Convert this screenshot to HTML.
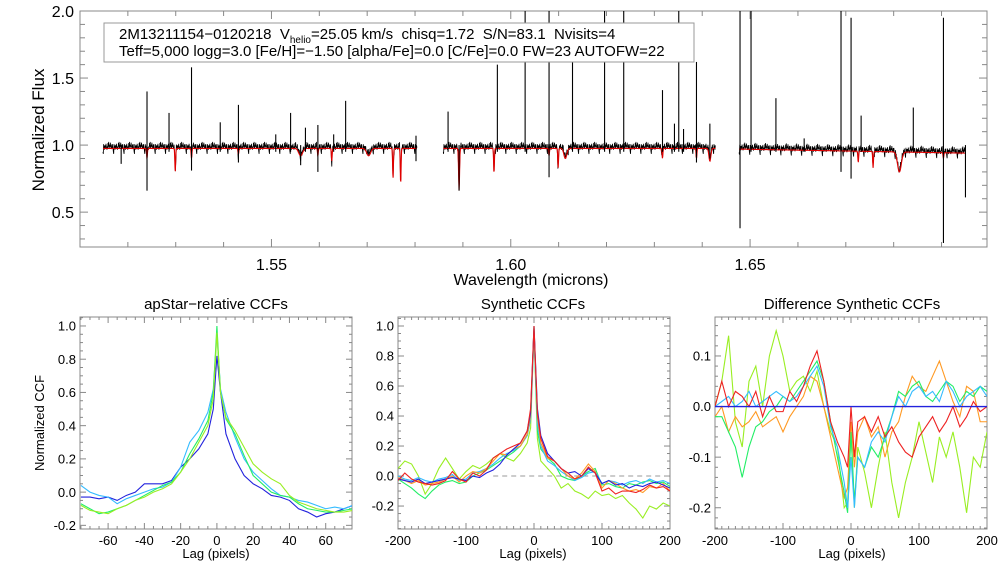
<!DOCTYPE html>
<html><head><meta charset="utf-8"><style>
body{margin:0;background:#fff}
svg{display:block;font-family:"Liberation Sans",sans-serif}
</style></head><body>
<svg id="c" width="1008" height="576" viewBox="0 0 1008 576"></svg>
<script>
// ---------- top spectrum data ----------
const segStart=[1.5148,1.5859,1.6477];
const segEnd=[1.5804,1.6428,1.6950];
const segLevelStart=[0.975,0.975,0.970];
const segLevelEnd=[0.975,0.975,0.940];
const absWl=[1.5240,1.5299,1.5333,1.5431,1.5561,1.5597,1.5626,1.5703,1.5754,1.5770,1.5892,1.5965,1.6080,1.6099,1.6114,1.6317,1.6388,1.6416,1.6726,1.6757,1.6812,1.6904];
const absMin=[0.90,0.80,0.90,0.93,0.92,0.92,0.88,0.92,0.75,0.71,0.66,0.79,0.92,0.83,0.90,0.90,0.90,0.88,0.87,0.83,0.80,0.90];
const absW=[0.00008,0.00008,0.00008,0.00008,0.0004,0.00008,0.00008,0.0004,0.00008,0.00008,0.0001,0.00008,0.00008,0.00008,0.0003,0.00008,0.00008,0.0002,0.00008,0.00008,0.0004,0.00008];
const spkWl=[1.5186,1.5240,1.5286,1.5333,1.5393,1.5431,1.5509,1.5540,1.5561,1.5571,1.5597,1.5630,1.5655,1.5802,1.5869,1.5892,1.5972,1.6030,1.6080,1.6129,1.6196,1.6236,1.6317,1.6342,1.6351,1.6361,1.6388,1.6416,1.6479,1.6502,1.6554,1.6613,1.6690,1.6711,1.6732,1.6841,1.6904,1.6950];
const spkTop=[1.0,1.40,1.24,1.58,1.17,1.30,1.08,1.24,1.0,1.13,1.15,1.08,1.33,1.07,1.25,1.0,1.60,2.1,2.1,1.73,2.1,2.1,1.41,1.16,2.1,1.12,1.62,1.16,2.1,2.1,1.35,1.05,2.1,1.95,1.22,1.28,1.95,1.0];
const spkBot=[0.86,0.66,0.95,0.81,0.95,0.87,0.95,0.95,0.85,0.95,0.80,0.95,0.95,0.88,0.95,0.66,0.95,0.95,0.76,0.95,0.95,0.95,0.95,0.95,0.95,0.95,0.87,0.90,0.38,0.95,0.95,0.95,0.80,0.75,0.95,0.95,0.27,0.61];
const noiseTex=[0.012,-0.008,0.02,-0.015,0.004,-0.022,0.016,0.001,-0.011,0.024,-0.005,0.009,-0.018,0.013,-0.002,0.019,-0.013,0.006,-0.025,0.011,0.003,-0.009,0.021,-0.016,0.008,-0.004,0.017,-0.02,0.014,-0.007,0.005];

// ---------- CCF data ----------
const lagL=[-75,-70,-65,-60,-55,-50,-45,-40,-35,-30,-25,-20,-15,-10,-5,-2,0,2,5,10,15,20,25,30,35,40,45,50,55,60,65,70,75];
const ccfLBlue=[-0.03,-0.03,-0.04,-0.03,-0.05,-0.02,0.0,0.05,0.05,0.05,0.07,0.15,0.2,0.26,0.35,0.5,0.82,0.6,0.35,0.2,0.1,0.05,0.02,-0.02,-0.03,-0.05,-0.1,-0.12,-0.15,-0.13,-0.12,-0.1,-0.08];
const ccfLCyan=[0.04,0.0,-0.02,-0.03,-0.07,-0.04,-0.02,0.0,0.02,0.03,0.06,0.15,0.3,0.37,0.48,0.62,0.95,0.62,0.48,0.33,0.2,0.12,0.07,0.02,-0.02,-0.03,-0.05,-0.06,-0.08,-0.1,-0.09,-0.1,-0.08];
const ccfLGreen=[-0.07,-0.1,-0.13,-0.12,-0.1,-0.08,-0.05,-0.02,0.01,0.04,0.06,0.12,0.23,0.32,0.43,0.6,1.0,0.6,0.44,0.35,0.22,0.1,0.05,0.0,-0.02,-0.03,-0.07,-0.1,-0.11,-0.12,-0.12,-0.11,-0.1];
const ccfLLime=[-0.08,-0.11,-0.12,-0.13,-0.1,-0.08,-0.05,-0.03,0.0,0.02,0.05,0.12,0.2,0.3,0.4,0.56,0.96,0.6,0.45,0.37,0.27,0.17,0.12,0.08,0.05,-0.02,-0.06,-0.08,-0.1,-0.11,-0.12,-0.12,-0.11];

const lagM=[-200,-190,-180,-170,-160,-150,-140,-130,-120,-110,-100,-90,-80,-70,-60,-50,-40,-30,-20,-10,-5,0,5,10,20,30,40,50,60,70,80,90,100,110,120,130,140,150,160,170,180,190,200];
const ccfMBlue=[-0.02,-0.03,-0.04,-0.02,-0.05,-0.04,-0.03,-0.02,-0.01,-0.02,-0.03,0.0,-0.01,0.02,0.04,0.08,0.14,0.18,0.22,0.3,0.42,1.0,0.45,0.27,0.15,0.1,0.05,0.02,0.03,0.0,0.05,0.02,-0.05,-0.03,-0.06,-0.05,-0.08,-0.06,-0.07,-0.05,-0.04,-0.06,-0.08];
const ccfMCyan=[0.0,-0.02,-0.03,-0.01,-0.03,-0.04,-0.02,-0.01,0.01,-0.03,-0.02,0.02,0.03,0.05,0.08,0.12,0.15,0.17,0.2,0.27,0.38,0.95,0.35,0.2,0.1,0.07,0.03,0.0,-0.03,-0.01,0.02,0.03,-0.05,-0.03,-0.04,-0.06,-0.04,-0.03,-0.05,-0.02,-0.04,-0.03,-0.05];
const ccfMGreen=[-0.02,-0.05,-0.08,-0.12,-0.15,-0.1,-0.06,-0.04,-0.03,-0.05,-0.04,0.0,0.02,0.04,0.07,0.1,0.13,0.16,0.2,0.27,0.38,1.0,0.3,0.18,0.12,0.08,0.0,-0.02,-0.03,0.0,0.03,0.05,-0.06,-0.05,-0.07,-0.08,-0.05,-0.06,-0.04,-0.03,-0.05,-0.04,-0.07];
const ccfMLime=[0.05,0.1,0.08,0.0,-0.12,-0.05,0.05,0.12,0.05,-0.02,0.03,0.07,0.05,0.08,0.12,0.15,0.12,0.1,0.15,0.22,0.32,0.95,0.25,0.1,0.05,0.0,-0.08,-0.05,-0.1,-0.12,-0.15,-0.1,-0.13,-0.12,-0.15,-0.13,-0.18,-0.22,-0.28,-0.2,-0.22,-0.18,-0.2];
const ccfMOrange=[-0.01,-0.03,-0.05,-0.03,-0.06,-0.05,-0.04,-0.02,0.0,-0.04,0.0,0.03,0.02,0.05,0.1,0.15,0.14,0.18,0.2,0.28,0.4,0.98,0.4,0.22,0.12,0.1,0.05,0.0,-0.02,0.02,0.08,0.03,-0.08,-0.03,-0.05,-0.08,-0.1,-0.09,-0.11,-0.07,-0.08,-0.05,-0.1];
const ccfMRed=[-0.03,0.02,-0.02,-0.04,-0.05,-0.06,-0.05,-0.03,0.03,-0.02,-0.04,0.02,0.0,0.04,0.12,0.15,0.18,0.2,0.22,0.3,0.45,1.0,0.42,0.25,0.13,0.1,0.05,0.02,-0.02,0.0,0.06,0.02,-0.1,-0.08,-0.12,-0.1,-0.1,-0.11,-0.09,-0.06,-0.08,-0.07,-0.1];

const lagR=lagM;
const difBlue=[0,0,0,0,0,0,0,0,0,0,0,0,0,0,0,0,0,0,0,0,0,0,0,0,0,0,0,0,0,0,0,0,0,0,0,0,0,0,0,0,0,0,0];
const difCyan=[0.0,0.01,0.02,0.0,0.01,0.03,0.0,0.01,0.02,0.03,0.02,0.01,0.02,0.04,0.06,0.08,0.04,-0.04,-0.08,-0.15,-0.2,-0.1,-0.2,-0.1,-0.12,-0.07,-0.05,-0.07,-0.02,0.02,0.0,0.03,0.04,0.02,0.03,0.01,0.05,0.03,0.0,0.02,0.03,0.04,0.02];
const difGreen=[-0.02,-0.02,-0.05,-0.08,-0.14,-0.08,-0.04,-0.03,-0.01,0.0,0.02,0.01,0.03,0.05,0.07,0.09,0.05,-0.03,-0.1,-0.17,-0.21,-0.05,-0.19,-0.1,-0.12,-0.08,-0.1,-0.06,-0.02,0.03,0.02,0.04,0.05,0.02,0.01,0.03,0.05,0.04,0.01,0.03,0.02,0.04,0.03];
const difLime=[0.0,0.05,0.14,-0.03,-0.08,0.05,0.08,0.0,0.1,0.15,0.1,0.03,0.05,0.06,0.03,0.07,0.0,-0.05,-0.08,-0.2,-0.19,-0.05,-0.2,-0.08,-0.13,-0.2,-0.12,-0.05,-0.15,-0.22,-0.15,-0.1,-0.03,-0.09,-0.15,-0.06,-0.1,-0.05,-0.12,-0.21,-0.1,-0.12,-0.05];
const difOrange=[-0.02,0.0,-0.05,-0.02,-0.04,-0.03,-0.01,-0.04,-0.03,-0.02,-0.05,-0.02,0.0,0.02,0.06,0.05,0.0,-0.06,-0.12,-0.18,-0.16,-0.03,-0.12,-0.05,-0.02,-0.06,-0.04,-0.1,-0.05,-0.03,0.02,0.06,0.04,0.03,0.06,0.09,0.05,0.01,-0.02,0.04,0.03,-0.03,-0.03];
const difRed=[0.0,0.05,0.0,0.03,0.02,0.0,0.03,-0.02,0.02,-0.01,-0.01,0.03,0.01,0.04,0.08,0.11,0.05,-0.03,-0.07,-0.1,-0.12,0.0,-0.1,-0.03,-0.02,-0.05,-0.02,-0.06,-0.04,-0.07,-0.09,-0.1,-0.06,-0.04,-0.02,-0.05,-0.03,0.0,-0.04,-0.02,0.01,-0.01,0.0];

const C={blue:'#2222dd',cyan:'#33bbff',green:'#22ee66',lime:'#99ee22',orange:'#ff9922',red:'#ee2222'};
const svg=document.getElementById('c');
const NS='http://www.w3.org/2000/svg';
function el(tag,attrs,parent){const e=document.createElementNS(NS,tag);for(const k in attrs)e.setAttribute(k,attrs[k]);(parent||svg).appendChild(e);return e;}
function txt(s,x,y,fs,anchor,parent){const t=el('text',{x:x,y:y,'font-size':fs,'text-anchor':anchor||'middle',fill:'#000'},parent);t.textContent=s;return t;}
function mk(b,xr,yr){return {X:v=>b.x+(v-xr[0])/(xr[1]-xr[0])*b.w,Y:v=>b.y+b.h-(v-yr[0])/(yr[1]-yr[0])*b.h};}
function axes(name,b,xr,yr,xmaj,xmin,ymaj,ymin,xf,yf,ml,nl,fs,xly,ylx){
  const g=el('g',{});
  
  
  const m=mk(b,xr,yr);const st={stroke:'#888','stroke-width':1};
  for(let v=Math.ceil(xr[0]/xmin-1e-6)*xmin;v<=xr[1]+1e-9;v+=xmin){
    const isMaj=Math.abs(v/xmaj-Math.round(v/xmaj))<1e-6;const L=isMaj?ml:nl;const x=m.X(v);
    el('line',Object.assign({x1:x,x2:x,y1:b.y+b.h,y2:b.y+b.h-L},st),g);
    el('line',Object.assign({x1:x,x2:x,y1:b.y,y2:b.y+L},st),g);
    if(isMaj){const t=txt(xf(v),x,xly,fs,'middle',g);}
  }
  for(let v=Math.ceil(yr[0]/ymin-1e-6)*ymin;v<=yr[1]+1e-9;v+=ymin){
    const isMaj=Math.abs(v/ymaj-Math.round(v/ymaj))<1e-6;const L=isMaj?ml:nl;const y=m.Y(v);
    el('line',Object.assign({x1:b.x,x2:b.x+L,y1:y,y2:y},st),g);
    el('line',Object.assign({x1:b.x+b.w,x2:b.x+b.w-L,y1:y,y2:y},st),g);
    if(isMaj){const t=txt(yf(v),ylx,y+fs*0.36,fs,'end',g);}
  }
  el('rect',Object.assign({x:b.x,y:b.y,width:b.w,height:b.h,fill:'none'},st),g);
  return m;
}
let clipN=0;
function clip(b){const id='cl'+(clipN++);const cp=el('clipPath',{id:id});el('rect',{x:b.x,y:b.y,width:b.w,height:b.h},cp);return 'url(#'+id+')';}
function line(m,xs,ys,color,name,cp,w){const n=Math.min(xs.length,ys.length);let d='';for(let i=0;i<n;i++)d+=(i?'L':'M')+m.X(xs[i]).toFixed(2)+','+m.Y(ys[i]).toFixed(2);
  const p=el('path',{d:d,fill:'none',stroke:color,'stroke-width':w||1.1,'clip-path':cp});
  
  return p;}
const f2=v=>v.toFixed(2),f1=v=>(v<-1e-9?'-':'')+Math.abs(v).toFixed(1),f0=v=>String(Math.round(v));

// ---------- top panel ----------
const bT={x:80,y:11,w:907,h:236};
const xrT=[1.51,1.6995],yrT=[0.24,2.0];
const mT=axes('spectrum',bT,xrT,yrT,0.05,0.01,0.5,0.1,f2,f1,8,5,16,270,74);
const cpT=clip(bT);
function model(w,s){let lev=segLevelStart[s]+(segLevelEnd[s]-segLevelStart[s])*(w-segStart[s])/(segEnd[s]-segStart[s]);let f=lev;
  for(let i=0;i<absWl.length;i++){const dx=(w-absWl[i])/absW[i];f-= (lev-absMin[i])*Math.exp(-0.5*dx*dx);}return f;}
for(let s=0;s<3;s++){
  let db='',dr='';let k=0;
  for(let w=segStart[s];w<=segEnd[s];w+=0.00007,k++){
    const mf=model(w,s);
    const a=noiseTex[k%noiseTex.length],b2=noiseTex[(k*7+3)%noiseTex.length],c2=noiseTex[(k*13+5)%noiseTex.length];
    const of=mf+0.01+a*0.9+b2*0.7+(Math.abs(c2)>0.02?c2*1.6:0);
    db+=(k?'L':'M')+mT.X(w).toFixed(2)+','+mT.Y(of).toFixed(2);
    dr+=(k?'L':'M')+mT.X(w).toFixed(2)+','+mT.Y(mf).toFixed(2);
  }
  const pb=el('path',{d:db,fill:'none',stroke:'#000','stroke-width':0.8,'clip-path':cpT});
  
  
  const pr=el('path',{d:dr,fill:'none',stroke:'#e00000','stroke-width':1.1,'clip-path':cpT});
  
  
}
for(let i=0;i<spkWl.length;i++){
  const x=mT.X(spkWl[i]);
  const l=el('line',{x1:x,x2:x,y1:mT.Y(spkTop[i]),y2:mT.Y(spkBot[i]),stroke:'#000','stroke-width':1.1,'clip-path':cpT});
  
  
}
const lg=el('g',{});


el('rect',{x:104,y:23,width:590,height:39,fill:'#fff',stroke:'#999','stroke-width':1},lg);
const t1=el('text',{x:119,y:39,'font-size':15,fill:'#000'},lg);
t1.innerHTML='2M13211154\u22120120218  V<tspan font-size="10" dy="4">helio</tspan><tspan dy="-4">=25.05 km/s  chisq=1.72  S/N=83.1  Nvisits=4</tspan>';
t1.style.whiteSpace='pre';
const t2=txt('Teff=5,000 logg=3.0 [Fe/H]=\u22121.50 [alpha/Fe]=0.0 [C/Fe]=0.0 FW=23 AUTOFW=22',119,56,15,'start',lg);
let yt=txt('Normalized Flux',0,0,17,'middle');yt.setAttribute('transform','translate(44,130) rotate(-90)');

let xt=txt('Wavelength (microns)',531,285,16,'middle');


// ---------- bottom panels ----------
const bL={x:80,y:317,w:272,h:212},bM={x:398,y:317,w:272,h:212},bR={x:715,y:317,w:272,h:212};
const mL=axes('apstar-ccf',bL,[-75.5,74.5],[-0.222,1.054],20,5,0.2,0.05,f0,f1,6,3,13,545,76);
const mM=axes('synthetic-ccf',bM,[-200,200],[-0.353,1.06],100,10,0.2,0.05,f0,f1,6,3,13,545,394);
const mR=axes('difference-ccf',bR,[-200,200],[-0.242,0.177],100,10,0.1,0.02,f0,f1,6,3,13,545,711);
const cL=clip(bL),cM=clip(bM),cR=clip(bR);
line(mL,lagL,ccfLBlue,C.blue,'apstar-ccf-blue',cL);
line(mL,lagL,ccfLCyan,C.cyan,'apstar-ccf-cyan',cL);
line(mL,lagL,ccfLGreen,C.green,'apstar-ccf-green',cL);
line(mL,lagL,ccfLLime,C.lime,'apstar-ccf-lime',cL);
const dz=el('line',{x1:mM.X(-60),x2:mM.X(200),y1:mM.Y(0),y2:mM.Y(0),stroke:'#999','stroke-dasharray':'5,4','stroke-width':1});

line(mM,lagM,ccfMLime,C.lime,'synthetic-ccf-lime',cM);
line(mM,lagM,ccfMGreen,C.green,'synthetic-ccf-green',cM);
line(mM,lagM,ccfMCyan,C.cyan,'synthetic-ccf-cyan',cM);
line(mM,lagM,ccfMOrange,C.orange,'synthetic-ccf-orange',cM);
line(mM,lagM,ccfMBlue,C.blue,'synthetic-ccf-blue',cM);
line(mM,lagM,ccfMRed,C.red,'synthetic-ccf-red',cM);
line(mR,lagR,difLime,C.lime,'diff-ccf-lime',cR);
line(mR,lagR,difOrange,C.orange,'diff-ccf-orange',cR);
line(mR,lagR,difGreen,C.green,'diff-ccf-green',cR);
line(mR,lagR,difCyan,C.cyan,'diff-ccf-cyan',cR);
line(mR,lagR,difRed,C.red,'diff-ccf-red',cR);
line(mR,lagR,difBlue,C.blue,'diff-ccf-blue',cR,1.4);
const titles=[['apStar\u2212relative CCFs',216,'left-panel-title'],['Synthetic CCFs',533,'middle-panel-title'],['Difference Synthetic CCFs',852,'right-panel-title']];
for(const t of titles){const e=txt(t[0],t[1],309,15,'middle');}
for(const cx of [216,533,852]){const e=txt('Lag (pixels)',cx,558,13,'middle');}
let yc=txt('Normalized CCF',0,0,13,'middle');yc.setAttribute('transform','translate(44,423) rotate(-90)');

</script>
</body></html>
